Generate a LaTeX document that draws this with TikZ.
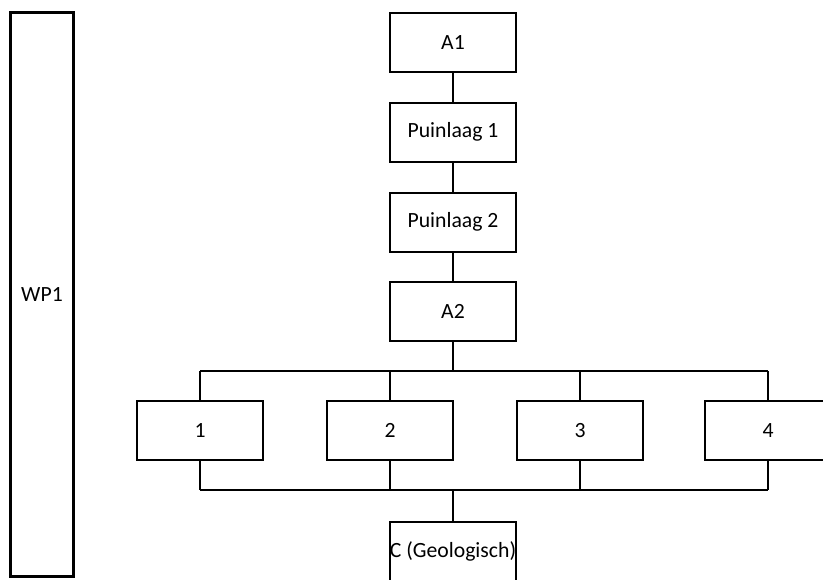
\documentclass[tikz,border=0pt]{standalone}
\usepackage{fontspec}
\setmainfont{Carlito}
\usepackage{tikz}

\tikzset{
  box/.style={draw,line width=1pt,rectangle,inner sep=0pt,minimum width=63pt,minimum height=29.5pt,font=\fontsize{10.85}{13}\selectfont},
  wp/.style={draw,line width=1.7pt,rectangle,inner sep=0pt,minimum width=31.5pt,minimum height=282pt,font=\fontsize{10.85}{13}\selectfont}
}

\begin{document}
\begin{tikzpicture}[x=0.5pt,y=-0.5pt,line width=1pt]
    \useasboundingbox (0,0) rectangle (823,579);
    \node[wp](wp1)at(42,294.5){WP1};

    \node[box](a1)at(453,42.5){A1};
    \node[box](p1)at(453,132){Puinlaag 1};
    \node[box](p2)at(453,222){Puinlaag 2};
    \node[box](a2)at(453,311.5){A2};

    \node[box](b1)at(200,430.5){1};
    \node[box](b2)at(390,430.5){2};
    \node[box](b3)at(580,430.5){3};
    \node[box](b4)at(768,430.5){4};

    \node[box](c)at(453,551.5){C (Geologisch)};

    \coordinate (topbus) at (453,371);
    \coordinate (lowbus) at (453,490);

    \draw (a1) -- (p1);
    \draw (p1) -- (p2);
    \draw (p2) -- (a2);
    \draw (a2) -- (topbus);
    \draw (b1.north |- topbus) -- (b4.north |- topbus);
    \draw (b1.south |- lowbus) -- (b4.south |- lowbus);
    \foreach \b in {b1,b2,b3,b4}{
      \draw (\b.north) -- (\b.north |- topbus);
      \draw (\b.south) -- (\b.south |- lowbus);
    }
    \draw (lowbus) -- (c);
\end{tikzpicture}
\end{document}
